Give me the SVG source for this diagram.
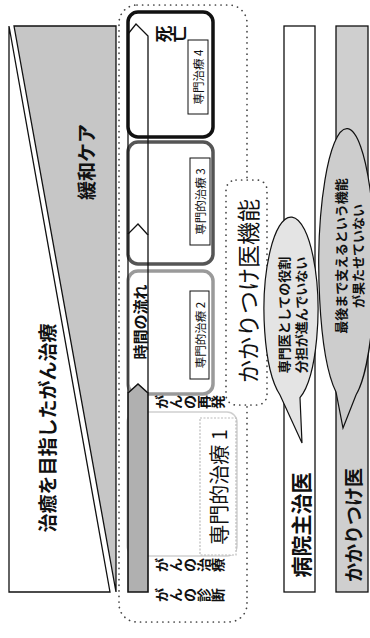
<svg xmlns="http://www.w3.org/2000/svg" width="370" height="638" viewBox="0 0 370 638">
<style>
 text{font-family:"Noto Sans CJK JP","Noto Sans CJK SC",sans-serif;fill:#111;text-anchor:middle;dominant-baseline:central}
 .b{font-weight:bold}
 .dot{fill:none;stroke:#444;stroke-width:1.7;stroke-dasharray:0.1 5.5;stroke-linecap:round}
 .dotw{fill:#fff;stroke:#444;stroke-width:1.7;stroke-dasharray:0.1 5.5;stroke-linecap:round}
 .ln{fill:none;stroke:#111;stroke-width:1.3}
 .lab{fill:#fff;stroke:#111;stroke-width:1}
 .box{fill:none;stroke-width:3.5}
</style>
<rect width="370" height="638" fill="#fff"/>
<g id="cure-panel">
 <polygon points="9,26 9,592 110,592" fill="#fff" stroke="#111" stroke-width="1.3"/>
 <polygon points="14,26 116,26 116,592" fill="#c6c6c6" stroke="#111" stroke-width="1.3"/>
 <text class="b" font-size="19" transform="translate(46,428) rotate(-90)">治癒を目指したがん治療</text>
 <text class="b" font-size="19" transform="translate(85,162) rotate(-90)">緩和ケア</text>
</g>
<g id="hospital-doctor">
 <rect x="284" y="26" width="31" height="566" fill="#fff" stroke="#111" stroke-width="1.3"/>
 <text class="b" font-size="21" transform="translate(300,525) rotate(-90)">病院主治医</text>
</g>
<g id="family-doctor">
 <rect x="336" y="26" width="32" height="566" fill="#cfcfcf" stroke="#111" stroke-width="1.3"/>
 <text class="b" font-size="19" transform="translate(352,525) rotate(-90)">かかりつけ医</text>
</g>
<g id="treatment-area">
 <rect x="119" y="5" width="128" height="617" rx="18" class="dot"/>
</g>
<g id="family-function">
 <rect x="226" y="180" width="41" height="225" rx="10" class="dotw"/>
 <text font-size="23" transform="translate(247,291) rotate(-90)">かかりつけ医機能</text>
</g>
<g id="stage1">
 <rect x="127" y="412" width="110" height="144" rx="10" fill="none" stroke="#cfcfcf" stroke-width="1.5"/>
 <rect x="200" y="418" width="36" height="137" fill="#fff" stroke="#bbb" stroke-width="1.2" stroke-dasharray="2 1.5"/>
 <text font-size="20" transform="translate(218,487) rotate(-90)">専門的治療 1</text>
</g>
<g id="stage2">
 <rect x="128" y="271" width="85" height="123" rx="10" class="box" stroke="#9a9a9a"/>
 <rect x="190" y="291" width="19" height="88" class="lab"/>
 <text font-size="11.5" transform="translate(199.5,335) rotate(-90)">専門的治療 2</text>
</g>
<g id="stage3">
 <rect x="128" y="142" width="85" height="122" rx="10" class="box" stroke="#555"/>
 <rect x="190" y="158" width="20" height="87" class="lab"/>
 <text font-size="11.5" transform="translate(200,201.5) rotate(-90)">専門的治療 3</text>
</g>
<g id="stage4">
 <rect x="128" y="12" width="85" height="125" rx="10" class="box" stroke="#111"/>
 <rect x="188" y="40" width="20" height="74" class="lab"/>
 <text font-size="11.5" transform="translate(198,77) rotate(-90)">専門治療 4</text>
 <text class="b" font-size="17" transform="translate(162,34) rotate(-90)">死</text>
 <text class="b" font-size="17" transform="translate(177,34) rotate(-90)">亡</text>
</g>
<g id="time-arrow">
 <polygon points="128,592 128,393 138,384 148,393 148,592" fill="#b0b0b0" stroke="#111" stroke-width="1.6"/>
 <polyline points="128,393 128,234 138,224 148,235 148,393" class="ln"/>
 <polyline points="128,234 128,34 136,24 148,36 148,235" class="ln"/>
 <text class="b" font-size="15" transform="translate(139,322) rotate(-90)">時間の流れ</text>
</g>
<g id="events">
 <g class="b" font-size="14">
  <text transform="translate(161,402) rotate(-90)">が</text>
  <text transform="translate(175,402) rotate(-90)">ん</text>
  <text transform="translate(189,402) rotate(-90)">の</text>
  <text transform="translate(203,402) rotate(-90)">再</text>
  <text transform="translate(217,402) rotate(-90)">発</text>
 </g>
 <g class="b" font-size="14">
  <text transform="translate(161,565) rotate(-90)">が</text>
  <text transform="translate(175,565) rotate(-90)">ん</text>
  <text transform="translate(189,565) rotate(-90)">の</text>
  <text transform="translate(203,565) rotate(-90)">治</text>
  <text transform="translate(217,565) rotate(-90)">療</text>
 </g>
 <g class="b" font-size="14">
  <text transform="translate(161,595) rotate(-90)">が</text>
  <text transform="translate(175,595) rotate(-90)">ん</text>
  <text transform="translate(189,595) rotate(-90)">の</text>
  <text transform="translate(203,595) rotate(-90)">診</text>
  <text transform="translate(217,595) rotate(-90)">断</text>
 </g>
</g>
<g id="bubble-role">
 <path d="M280,395 A27,93 0 1 1 300,397.7 L302,443 Z" fill="#e4e4e4" stroke="#111" stroke-width="1.2"/>
 <text class="b" font-size="13" transform="translate(283,315) rotate(-90)">専門医としての役割</text>
 <text class="b" font-size="13" transform="translate(300,315) rotate(-90)">分担が進んでいない</text>
</g>
<g id="bubble-support">
 <path d="M336,392 A28,137 0 1 1 356,395 L343,428 Z" fill="#cdcdcd" stroke="#111" stroke-width="1.2"/>
 <text class="b" font-size="13" transform="translate(340,256) rotate(-90)">最後まで支えるという機能</text>
 <text class="b" font-size="13" transform="translate(357,256) rotate(-90)">が果たせていない</text>
</g>
</svg>
